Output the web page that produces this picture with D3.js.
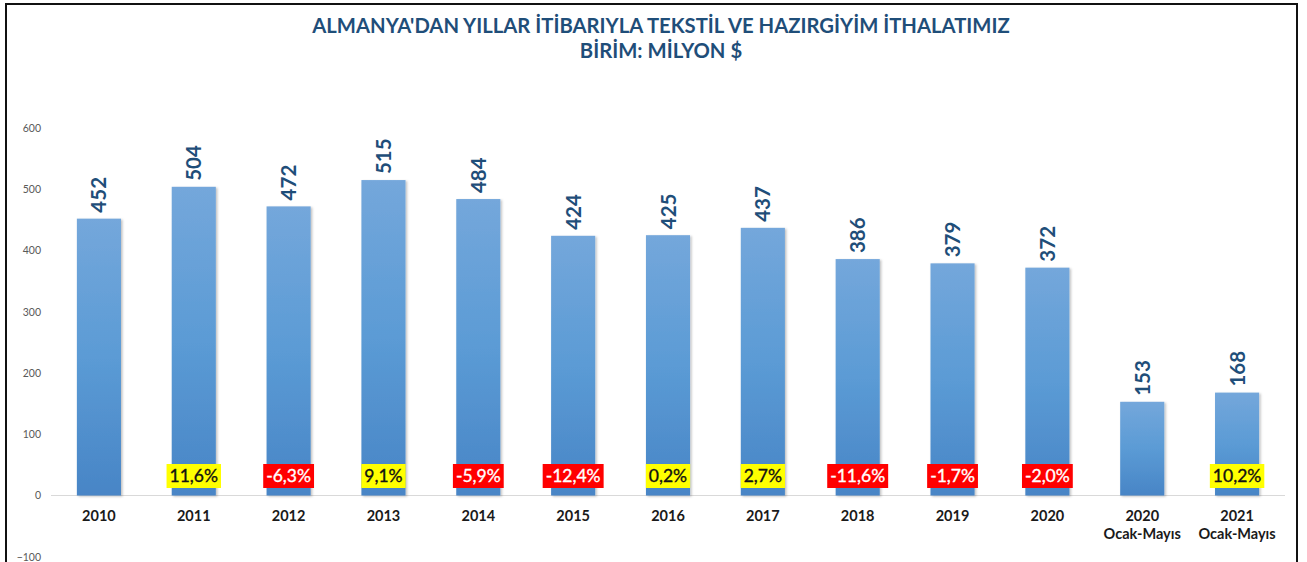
<!DOCTYPE html>
<html>
<head>
<meta charset="utf-8">
<script src="https://cdn.jsdelivr.net/npm/d3@7"></script>
<style>
	body { margin: 0; background: #fff; }
	svg { display: block; font-family: Lato, "Open Sans", sans-serif; }
</style>
</head>
<body>
<div id="chart-area"></div>
<script>

// chart values
var years = ["2010", "2011", "2012", "2013", "2014", "2015", "2016", "2017", "2018", "2019", "2020", "2020|Ocak-Mayıs", "2021|Ocak-Mayıs"];
var imports = [452, 504, 472, 515, 484, 424, 425, 437, 386, 379, 372, 153, 168];
var changes = [null, 11.6, -6.3, 9.1, -5.9, -12.4, 0.2, 2.7, -11.6, -1.7, -2.0, null, 10.2];
var yTicks = [-100, 0, 100, 200, 300, 400, 500, 600];
var titleLines = ["ALMANYA'DAN YILLAR İTİBARIYLA TEKSTİL VE HAZIRGİYİM İTHALATIMIZ", "BİRİM: MİLYON $"];

var width = 1307,
	height = 562;

var data = years.map(function(y, i) {
	return {year: y, value: imports[i], change: changes[i]};
});

var svg = d3.select("#chart-area").append("svg")
	.attr("width", width)
	.attr("height", height);

var defs = svg.append("defs");
var grad = defs.append("linearGradient")
	.attr("id", "barGrad")
	.attr("x1", 0).attr("y1", 0).attr("x2", 0).attr("y2", 1);
grad.append("stop").attr("offset", "0%").attr("stop-color", "#74a7db");
grad.append("stop").attr("offset", "50%").attr("stop-color", "#5b9bd5");
grad.append("stop").attr("offset", "100%").attr("stop-color", "#4885c6");

var shadow = defs.append("filter").attr("id", "shadow")
	.attr("x", "-20%").attr("y", "-5%").attr("width", "140%").attr("height", "110%");
shadow.append("feDropShadow")
	.attr("dx", 1.5).attr("dy", 1)
	.attr("stdDeviation", 1.2)
	.attr("flood-color", "#000")
	.attr("flood-opacity", 0.25);

// outer frame
svg.append("path")
	.attr("d", "M6," + (height + 5) + "V4H1297V" + (height + 5))
	.attr("fill", "none")
	.attr("stroke", "#111")
	.attr("stroke-width", 2);

// title
var title = svg.append("g").attr("class", "title");
titleLines.forEach(function(t, i) {
	title.append("text")
		.attr("x", 661)
		.attr("y", 33 + i * 25)
		.attr("text-anchor", "middle")
		.attr("font-weight", "bold")
		.attr("font-size", 19)
		.attr("fill", "#1f4e79")
		.text(t);
});
// fit the first line to the original width
var first = title.select("text").node();
var w = first.getComputedTextLength();
title.selectAll("text").attr("font-size", 19 * 698 / w);

// scales
var x = d3.scaleBand()
	.domain(years)
	.range([51.5, 1284.5])
	.paddingInner(0.535)
	.paddingOuter(0.2675);

var y = d3.scaleLinear()
	.domain([-100, 600])
	.range([556.75, 128]);

// y axis labels only
var yAxis = d3.axisLeft(y)
	.tickValues(yTicks)
	.tickSize(0)
	.tickPadding(0);
var gy = svg.append("g")
	.attr("class", "axis yAxis")
	.attr("transform", "translate(41,0)")
	.call(yAxis);
gy.select(".domain").remove();
gy.selectAll("text")
	.attr("font-family", "Lato, sans-serif")
	.attr("font-size", 10.5)
	.attr("fill", "#595959");

// zero line
svg.append("line")
	.attr("x1", 51).attr("x2", 1285)
	.attr("y1", y(0)).attr("y2", y(0))
	.attr("stroke", "#d9d9d9")
	.attr("stroke-width", 1);

// bars
svg.selectAll("rect.bar")
	.data(data)
	.enter()
	.append("rect")
	.attr("class", "bar")
	.attr("x", function(d) { return x(d.year); })
	.attr("y", function(d) { return y(d.value); })
	.attr("width", x.bandwidth())
	.attr("height", function(d) { return y(0) - y(d.value); })
	.attr("fill", "url(#barGrad)")
	.attr("filter", "url(#shadow)");

// value labels, rotated
svg.selectAll("text.value")
	.data(data)
	.enter()
	.append("text")
	.attr("class", "value")
	.attr("transform", function(d) {
		return "translate(" + (x(d.year) + x.bandwidth() / 2 + 7.5) + "," + (y(d.value) - 6) + ") rotate(-90)";
	})
	.attr("font-weight", "bold")
	.attr("font-size", 20.5)
	.attr("fill", "#1f4e79")
	.text(function(d) { return d.value; });

// percent change boxes
var fmt = function(v) { return d3.format(".1f")(v).replace(".", ",").replace("−", "-") + "%"; };
var boxes = svg.selectAll("g.change")
	.data(data.filter(function(d) { return d.change !== null; }))
	.enter()
	.append("g")
	.attr("class", "change")
	.attr("transform", function(d) {
		return "translate(" + (x(d.year) + x.bandwidth() / 2) + "," + (y(0) - 19.5) + ")";
	});
boxes.append("text")
	.attr("text-anchor", "middle")
	.attr("dy", "0.36em")
	.attr("font-size", 17.5)
	.attr("fill", function(d) { return d.change < 0 ? "#fff" : "#111"; })
	.attr("stroke", function(d) { return d.change < 0 ? "#fff" : "#111"; })
	.attr("stroke-width", 0.35)
	.text(function(d) { return fmt(d.change); });
boxes.each(function() {
	var g = d3.select(this);
	var bb = g.select("text").node().getBBox();
	g.insert("rect", "text")
		.attr("x", bb.x - 3)
		.attr("y", -12)
		.attr("width", bb.width + 6)
		.attr("height", 24)
		.attr("fill", function(d) { return d.change < 0 ? "#ff0000" : "#ffff00"; });
});

// x labels
var xl = svg.selectAll("text.xlabel")
	.data(years)
	.enter()
	.append("text")
	.attr("class", "xlabel")
	.attr("x", function(d) { return x(d) + x.bandwidth() / 2; })
	.attr("y", 521)
	.attr("text-anchor", "middle")
	.attr("font-weight", "bold")
	.attr("font-size", 14.5)
	.attr("fill", "#1a1a1a");
xl.each(function(d) {
	var parts = d.split("|");
	var t = d3.select(this);
	parts.forEach(function(p, i) {
		t.append("tspan")
			.attr("x", t.attr("x"))
			.attr("dy", i === 0 ? 0 : 18)
			.text(p);
	});
});

</script>
</body>
</html>
